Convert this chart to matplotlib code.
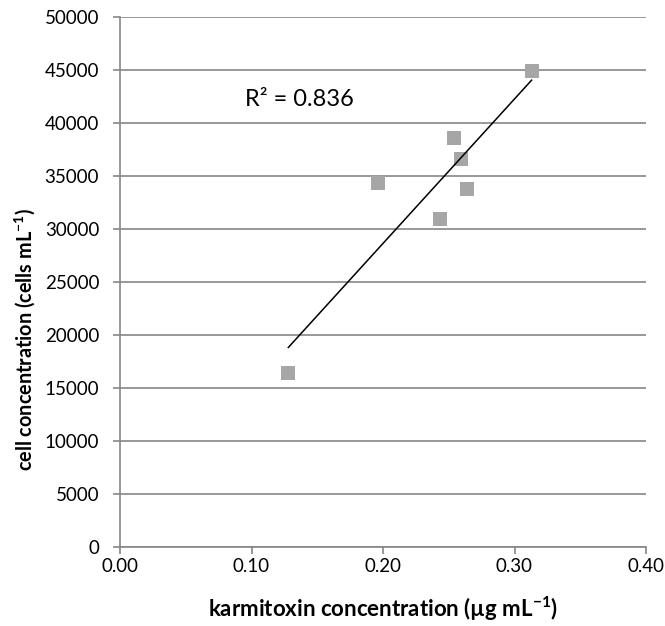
import numpy as np
import matplotlib.pyplot as plt

plt.rcParams['font.family'] = ['Lato', 'DejaVu Sans']
plt.rcParams['mathtext.default'] = 'regular'

# karmitoxin (ug/mL) vs cell concentration (cells/mL)
karmitoxin = [0.128, 0.196, 0.243, 0.254, 0.259, 0.264, 0.313]
cells = [16400, 34300, 30900, 38600, 36600, 33800, 44900]
r2_label = 'R² = 0.836'

x_ticks = [0.0, 0.1, 0.2, 0.3, 0.4]
y_ticks = list(range(0, 50001, 5000))

grey = '#868686'

fig = plt.figure(figsize=(6.65, 6.26), dpi=100)
ax = fig.add_axes([120 / 665, 1 - 547 / 626, 526 / 665, 530 / 626])

ax.scatter(karmitoxin, cells, marker='s', s=115, color='#a6a6a6', zorder=3, linewidths=0)

# linear trendline over the data range
slope, icpt = np.polyfit(karmitoxin, cells, 1)
xs = np.array([min(karmitoxin), max(karmitoxin)])
ax.plot(xs, slope * xs + icpt, color='black', lw=1.1, zorder=4)

ax.text(0.095, 42200, r2_label, fontsize=17, va='center', ha='left')

ax.set_xlim(0, 0.4)
ax.set_ylim(0, 50000)
ax.set_xticks(x_ticks)
ax.set_xticklabels([f'{v:.2f}' for v in x_ticks])
ax.set_yticks(y_ticks)
ax.set_yticklabels([str(v) for v in y_ticks])

ax.yaxis.grid(True, color=grey, lw=1.2)
ax.set_axisbelow(True)
for s in ['top', 'right']:
    ax.spines[s].set_visible(False)
for s in ['left', 'bottom']:
    ax.spines[s].set_color(grey)
    ax.spines[s].set_linewidth(1.2)
ax.tick_params(colors=grey, labelcolor='black', labelsize=13.5, length=5, width=1.2)
ax.tick_params(axis='y', pad=10)
ax.tick_params(axis='x', pad=3)

ax.set_xlabel(r'karmitoxin concentration (µg mL$^{-1}$)', fontsize=16, fontweight='bold', labelpad=14)
ax.set_ylabel(r'cell concentration (cells mL$^{-1}$)', fontsize=14.3, fontweight='bold')
ax.yaxis.set_label_coords(-0.158, 0.392)

fig.savefig('out.png', dpi=100)
